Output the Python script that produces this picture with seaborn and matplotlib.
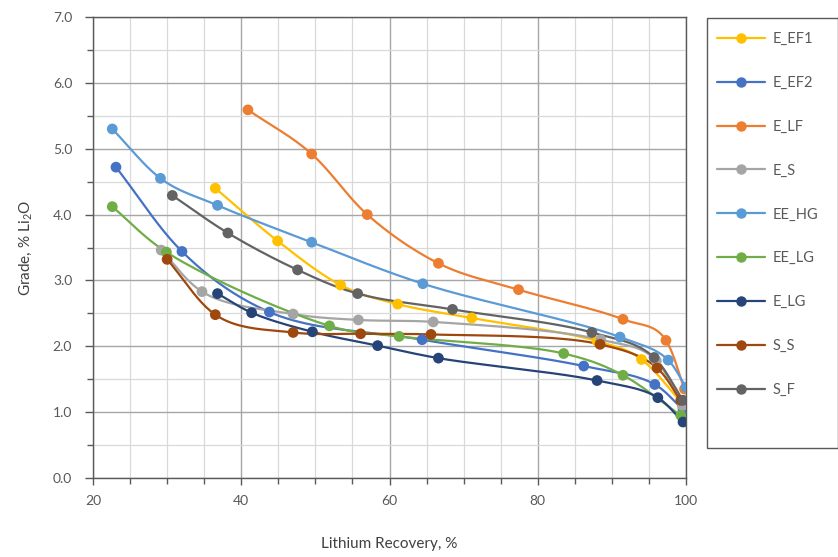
import numpy as np
import pandas as pd
import matplotlib
matplotlib.use("Agg")
import matplotlib.pyplot as plt
from matplotlib.lines import Line2D
from matplotlib.patches import Rectangle
from matplotlib.ticker import MultipleLocator
import seaborn as sns

# Grade-recovery data per flotation test
series_names = ["E_EF1", "E_EF2", "E_LF", "E_S", "EE_HG", "EE_LG", "E_LG", "S_S", "S_F"]

e_ef1_x = [36.5, 44.9, 53.4, 61.1, 71.1, 88.0, 94.0, 99.6]
e_ef1_y = [4.40, 3.60, 2.93, 2.64, 2.43, 2.08, 1.80, 1.12]

e_ef2_x = [23.1, 32.0, 43.8, 64.4, 86.2, 95.8, 99.6]
e_ef2_y = [4.72, 3.44, 2.52, 2.10, 1.70, 1.42, 1.04]

e_lf_x = [40.9, 49.5, 57.0, 66.6, 77.4, 91.5, 97.3, 99.8]
e_lf_y = [5.59, 4.92, 4.00, 3.26, 2.86, 2.41, 2.09, 1.35]

e_s_x = [29.2, 34.7, 47.0, 55.8, 65.9, 88.5, 96.0, 99.5]
e_s_y = [3.46, 2.83, 2.49, 2.40, 2.37, 2.10, 1.78, 1.10]

ee_hg_x = [22.6, 29.1, 36.8, 49.5, 64.5, 91.1, 97.6, 100.0]
ee_hg_y = [5.30, 4.55, 4.14, 3.58, 2.95, 2.14, 1.79, 1.38]

ee_lg_x = [22.6, 29.9, 51.9, 61.3, 83.5, 91.5, 99.3]
ee_lg_y = [4.12, 3.43, 2.31, 2.15, 1.89, 1.56, 0.95]

e_lg_x = [36.8, 41.4, 49.6, 58.4, 66.6, 88.0, 96.2, 99.6]
e_lg_y = [2.80, 2.51, 2.22, 2.01, 1.82, 1.48, 1.22, 0.85]

s_s_x = [30.0, 36.5, 47.0, 56.1, 65.6, 88.4, 96.1, 99.3]
s_s_y = [3.32, 2.48, 2.21, 2.19, 2.18, 2.03, 1.67, 1.18]

s_f_x = [30.7, 38.2, 47.6, 55.7, 68.5, 87.3, 95.7, 99.6]
s_f_y = [4.29, 3.72, 3.16, 2.80, 2.56, 2.21, 1.83, 1.18]

series_x = [e_ef1_x, e_ef2_x, e_lf_x, e_s_x, ee_hg_x, ee_lg_x, e_lg_x, s_s_x, s_f_x]
series_y = [e_ef1_y, e_ef2_y, e_lf_y, e_s_y, ee_hg_y, ee_lg_y, e_lg_y, s_s_y, s_f_y]

colors = ["#FFC000", "#4472C4", "#ED7D31", "#A5A5A5", "#5B9BD5",
          "#70AD47", "#264478", "#9E480E", "#636363"]

sns.set_theme(style="white")
plt.rcParams["font.family"] = ["Lato", "DejaVu Sans"]
plt.rcParams["mathtext.fontset"] = "custom"
plt.rcParams["mathtext.rm"] = "Lato"


def smooth_curve(xs, ys, n=24):
    """Centripetal Catmull-Rom curve through the measured points."""
    p = np.column_stack([xs, ys]).astype(float)
    p = np.vstack([2 * p[0] - p[1], p, 2 * p[-1] - p[-2]])
    out = []
    for i in range(1, len(p) - 2):
        p0, p1, p2, p3 = p[i - 1], p[i], p[i + 1], p[i + 2]
        t0 = 0.0
        t1 = t0 + np.linalg.norm(p1 - p0) ** 0.5
        t2 = t1 + np.linalg.norm(p2 - p1) ** 0.5
        t3 = t2 + np.linalg.norm(p3 - p2) ** 0.5
        t = np.linspace(t1, t2, n)[:, None]
        a1 = (t1 - t) / (t1 - t0) * p0 + (t - t0) / (t1 - t0) * p1
        a2 = (t2 - t) / (t2 - t1) * p1 + (t - t1) / (t2 - t1) * p2
        a3 = (t3 - t) / (t3 - t2) * p2 + (t - t2) / (t3 - t2) * p3
        b1 = (t2 - t) / (t2 - t0) * a1 + (t - t0) / (t2 - t0) * a2
        b2 = (t3 - t) / (t3 - t1) * a2 + (t - t1) / (t3 - t1) * a3
        c = (t2 - t) / (t2 - t1) * b1 + (t - t1) / (t2 - t1) * b2
        out.append(c if i == 1 else c[1:])
    return np.vstack(out)


fig = plt.figure(figsize=(8.38, 5.57), dpi=100)
ax = fig.add_axes([93 / 838, 1 - 478 / 557, (686 - 93) / 838, (478 - 17) / 557])

points = pd.concat(
    [pd.DataFrame({"series": name, "recovery": xs, "grade": ys})
     for name, xs, ys in zip(series_names, series_x, series_y)],
    ignore_index=True,
)
curves = []
for name, xs, ys in zip(series_names, series_x, series_y):
    c = smooth_curve(xs, ys)
    curves.append(pd.DataFrame({"series": name, "recovery": c[:, 0],
                                "grade": c[:, 1], "order": np.arange(len(c))}))
curves = pd.concat(curves, ignore_index=True)

palette = dict(zip(series_names, colors))
sns.lineplot(data=curves, x="recovery", y="grade", hue="series", units="series",
             estimator=None, sort=False, palette=palette, linewidth=1.6,
             legend=False, ax=ax, zorder=3)
sns.scatterplot(data=points, x="recovery", y="grade", hue="series",
                palette=palette, s=60, edgecolor="none", legend=False,
                ax=ax, zorder=4)

ax.set_xlim(20, 100)
ax.set_ylim(0, 7)
ax.xaxis.set_major_locator(MultipleLocator(20))
ax.xaxis.set_minor_locator(MultipleLocator(5))
ax.yaxis.set_major_locator(MultipleLocator(1))
ax.yaxis.set_minor_locator(MultipleLocator(0.5))
ax.yaxis.set_major_formatter(matplotlib.ticker.FormatStrFormatter("%.1f"))

ax.grid(which="major", color="#a6a6a6", linewidth=1.0)
ax.grid(which="minor", color="#d9d9d9", linewidth=0.9)
ax.set_axisbelow(True)
for side in ["left", "bottom", "top", "right"]:
    ax.spines[side].set_color("#595959")
    ax.spines[side].set_linewidth(1.0)

ax.tick_params(which="both", direction="out", colors="#595959", labelsize=10,
               labelcolor="#595959")
ax.tick_params(axis="x", which="major", length=5, width=1.0, pad=7,
               bottom=True)
ax.tick_params(axis="x", which="minor", length=4, width=1.0, bottom=True)
ax.tick_params(axis="y", which="major", length=6, width=1.0, pad=9, left=True)
ax.tick_params(axis="y", which="minor", length=4, width=1.0, left=True)

ax.set_xlabel("Lithium Recovery, %", fontsize=11, color="#404040", labelpad=22)
ax.set_ylabel("Grade, % Li$_2$O", fontsize=11, color="#404040", labelpad=13)

# Legend: framed box on the right
fig.patches.append(Rectangle((707 / 838, 1 - 448 / 557), (838 - 707) / 838,
                             (448 - 18) / 557, transform=fig.transFigure,
                             facecolor="white", edgecolor="#595959",
                             linewidth=1.0, zorder=0))
handles = [Line2D([0], [0], color=c, linewidth=1.6, marker="o",
                  markersize=6.5, markeredgecolor=c) for c in colors]
fig.legend(handles, series_names, loc="upper left",
           bbox_to_anchor=(711 / 838, 1 - 26 / 557), frameon=False,
           fontsize=10.5, handlelength=3.3, handletextpad=0.5,
           labelspacing=2.05, borderaxespad=0, labelcolor="#595959")

fig.savefig("out.png", dpi=100)
